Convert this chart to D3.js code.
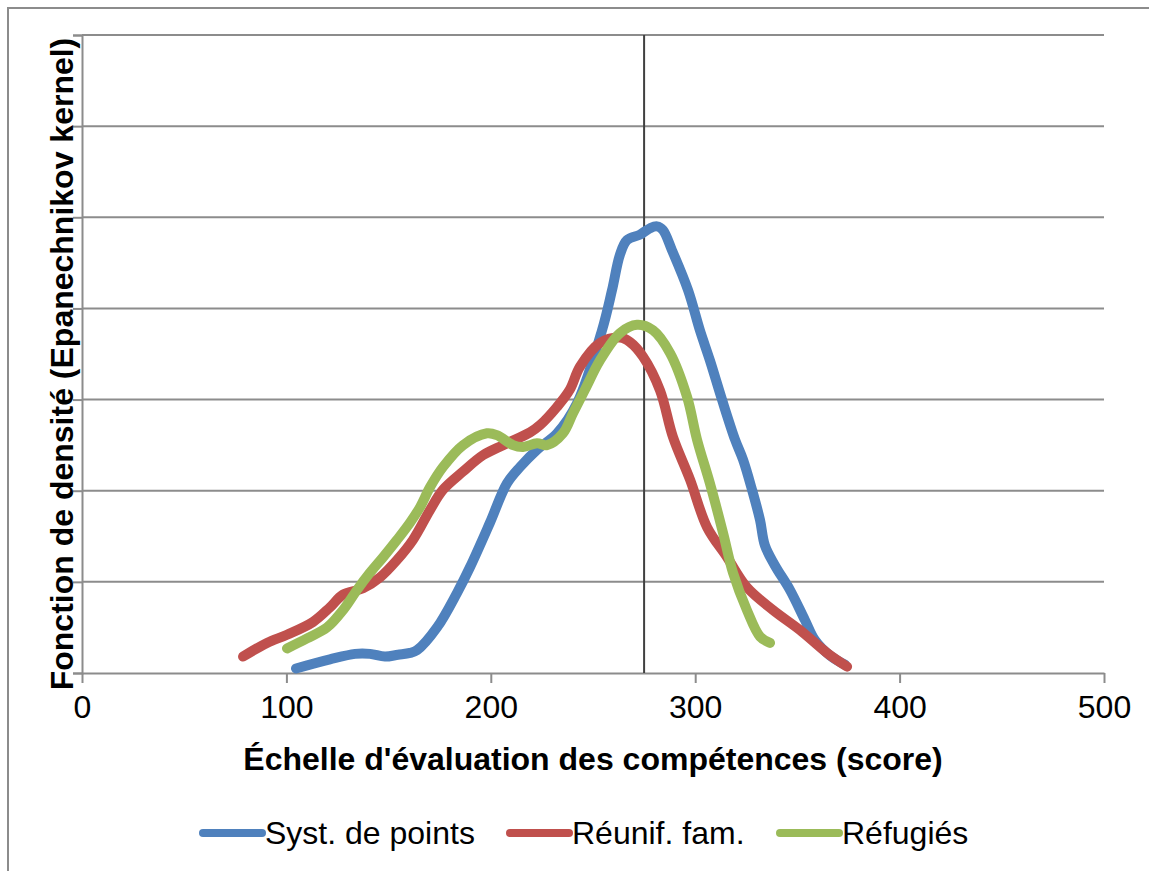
<!DOCTYPE html>
<html>
<head>
<meta charset="utf-8">
<script src="https://cdn.jsdelivr.net/npm/d3@7/dist/d3.min.js"></script>
<style>
  html, body { margin: 0; padding: 0; background: #fff; }
  svg { display: block; font-family: "Liberation Sans", Arial, sans-serif; }
</style>
</head>
<body>
<svg id="chart" width="1149" height="871"></svg>
<script>
// Score axis ticks and reference score
const xTicks = [0, 100, 200, 300, 400, 500];
const yTicks = [0, 1, 2, 3, 4, 5, 6, 7];
const referenceScore = 275;

// Kernel density estimates (score, density ×1000)
const pointsSystem = [
  [104.7, 0.05], [121.3, 0.15], [133.6, 0.21], [140.9, 0.21], [148.2, 0.18],
  [154.6, 0.20], [160.5, 0.22], [163.9, 0.25], [173.7, 0.50], [183.5, 0.88],
  [189.8, 1.16], [199.6, 1.65], [207.9, 2.08], [214.3, 2.26], [222.6, 2.45],
  [232.4, 2.63], [242.2, 2.96], [254.4, 3.76], [259.3, 4.20], [263.2, 4.59],
  [266.6, 4.75], [273.0, 4.81], [277.9, 4.88], [281.3, 4.90], [284.2, 4.86],
  [288.6, 4.64], [296.5, 4.20], [302.3, 3.76], [307.2, 3.43], [313.1, 3.00],
  [319.5, 2.56], [323.4, 2.34], [327.8, 2.01], [331.7, 1.68], [334.1, 1.40],
  [339.0, 1.18], [346.4, 0.91], [353.7, 0.58], [358.6, 0.36], [366.0, 0.19],
  [373.3, 0.09]
];
const familyReunion = [
  [78.8, 0.18], [90.5, 0.33], [100.3, 0.42], [113.0, 0.56], [121.3, 0.72],
  [127.7, 0.86], [137.5, 0.93], [145.8, 1.05], [154.1, 1.24], [161.9, 1.46],
  [170.3, 1.79], [176.6, 2.01], [186.4, 2.21], [196.2, 2.39], [206.0, 2.50],
  [219.2, 2.64], [224.1, 2.72], [232.4, 2.92], [238.7, 3.11], [243.6, 3.36],
  [253.4, 3.62], [263.2, 3.68], [268.1, 3.63], [274.5, 3.47], [282.8, 3.10],
  [289.1, 2.59], [297.5, 2.12], [305.8, 1.60], [315.6, 1.27], [325.3, 0.94],
  [338.1, 0.69], [351.3, 0.47], [364.5, 0.22], [374.3, 0.07]
];
const refugees = [
  [100.3, 0.27], [110.1, 0.38], [119.9, 0.50], [127.7, 0.69], [134.5, 0.91],
  [140.9, 1.10], [147.3, 1.27], [154.1, 1.46], [160.5, 1.65], [165.4, 1.82],
  [170.3, 2.04], [176.6, 2.26], [186.4, 2.50], [198.1, 2.63], [203.0, 2.61],
  [210.9, 2.50], [215.8, 2.48], [222.6, 2.52], [227.5, 2.50], [235.3, 2.63],
  [240.2, 2.85], [246.1, 3.11], [253.4, 3.43], [263.2, 3.73], [271.5, 3.82],
  [279.4, 3.76], [287.7, 3.51], [296.0, 3.03], [300.9, 2.56], [307.2, 2.08],
  [313.6, 1.54], [318.5, 1.10], [325.3, 0.69], [331.7, 0.40], [336.6, 0.33]
];

const seriesNames = ["Syst. de points", "Réunif. fam.", "Réfugiés"];
const seriesColors = ["#4F81BD", "#C0504D", "#9BBB59"];
const seriesData = [pointsSystem, familyReunion, refugees];

const svg = d3.select("#chart");
const gridColor = "#8c8c8c";

// Outer chart frame
svg.append("path")
  .attr("d", "M8,871 V8 H1149")
  .attr("fill", "none").attr("stroke", gridColor).attr("stroke-width", 2);

const x = d3.scaleLinear().domain([0, 500]).range([82, 1104]);
const y = d3.scaleLinear().domain([0, 7]).range([673, 35]);

// Horizontal gridlines
svg.append("g").selectAll("line").data(yTicks.slice(1)).join("line")
  .attr("x1", x(0)).attr("x2", x(500))
  .attr("y1", d => y(d)).attr("y2", d => y(d))
  .attr("stroke", gridColor).attr("stroke-width", 2);

// Y axis with outside ticks, no labels
const yAxis = svg.append("g").attr("transform", `translate(${x(0)},0)`)
  .call(d3.axisLeft(y).tickValues(yTicks).tickSize(9).tickFormat(""));
yAxis.select(".domain").attr("stroke", gridColor).attr("stroke-width", 2);
yAxis.selectAll(".tick line").attr("stroke", gridColor).attr("stroke-width", 2);

// X axis
const xAxis = svg.append("g").attr("transform", `translate(0,${y(0)})`)
  .call(d3.axisBottom(x).tickValues(xTicks).tickSize(10).tickSizeOuter(0).tickPadding(12));
xAxis.select(".domain").attr("stroke", gridColor).attr("stroke-width", 2);
xAxis.selectAll(".tick line").attr("stroke", gridColor).attr("stroke-width", 2);
xAxis.selectAll(".tick text")
  .attr("font-size", 32).attr("fill", "#000")
  .attr("font-family", "'Liberation Sans', Arial, sans-serif");

// Reference score marker
svg.append("line")
  .attr("x1", x(referenceScore)).attr("x2", x(referenceScore))
  .attr("y1", y(7)).attr("y2", y(0))
  .attr("stroke", "#404040").attr("stroke-width", 2);

// Density curves
const line = d3.line()
  .x(d => x(d[0])).y(d => y(d[1]))
  .curve(d3.curveCatmullRom.alpha(0.5));

svg.append("g").selectAll("path").data(seriesData).join("path")
  .attr("d", line)
  .attr("fill", "none")
  .attr("stroke", (d, i) => seriesColors[i])
  .attr("stroke-width", 10)
  .attr("stroke-linecap", "round")
  .attr("stroke-linejoin", "round");

// Axis titles
svg.append("text")
  .attr("x", 593).attr("y", 770)
  .attr("text-anchor", "middle")
  .attr("font-size", 32).attr("font-weight", "bold")
  .text("Échelle d'évaluation des compétences (score)");

svg.append("text")
  .attr("transform", "translate(73,364) rotate(-90)")
  .attr("text-anchor", "middle")
  .attr("font-size", 32).attr("font-weight", "bold")
  .text("Fonction de densité (Epanechnikov kernel)");

// Legend
const legendX = [203, 510, 780];
const legend = svg.append("g").selectAll("g").data(seriesNames).join("g")
  .attr("transform", (d, i) => `translate(${legendX[i]},833)`);
legend.append("line")
  .attr("x1", 0).attr("x2", 59).attr("y1", 0).attr("y2", 0)
  .attr("stroke", (d, i) => seriesColors[i])
  .attr("stroke-width", 8).attr("stroke-linecap", "round");
legend.append("text")
  .attr("x", 62).attr("y", 11)
  .attr("font-size", 32)
  .text(d => d);
</script>
</body>
</html>
